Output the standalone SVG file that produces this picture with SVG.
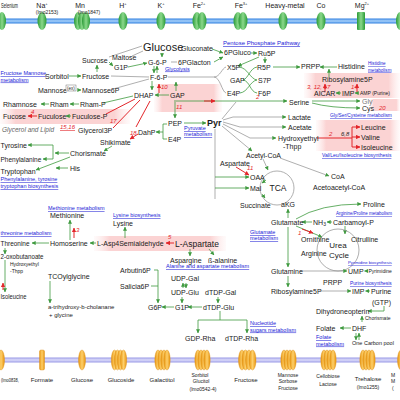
<svg xmlns="http://www.w3.org/2000/svg" width="400" height="400" viewBox="0 0 400 400">
<defs>
<marker id="ag" viewBox="0 0 6 6" refX="5.5" refY="3" markerWidth="4" markerHeight="4" orient="auto" markerUnits="userSpaceOnUse"><path d="M0,0L6,3L0,6z" fill="#3f9a3f"/></marker>
<marker id="ar" viewBox="0 0 6 6" refX="5.5" refY="3" markerWidth="4.5" markerHeight="4.5" orient="auto" markerUnits="userSpaceOnUse"><path d="M0,0L6,3L0,6z" fill="#e3262b"/></marker>
<linearGradient id="pink" x1="0" x2="1" y1="0" y2="0"><stop offset="0" stop-color="#fde8e8" stop-opacity="0.2"/><stop offset="0.12" stop-color="#fbd3d3"/><stop offset="0.88" stop-color="#fbd3d3"/><stop offset="1" stop-color="#fde8e8" stop-opacity="0.2"/></linearGradient>
<linearGradient id="gtr" x1="0" x2="1" y1="0" y2="0"><stop offset="0" stop-color="#2a9a36"/><stop offset="0.5" stop-color="#8ad88a"/><stop offset="1" stop-color="#2a9a36"/></linearGradient>
<linearGradient id="otr" x1="0" x2="1" y1="0" y2="0"><stop offset="0" stop-color="#e8950f"/><stop offset="0.5" stop-color="#fdcf6a"/><stop offset="1" stop-color="#e8950f"/></linearGradient>
<linearGradient id="mem1" x1="0" x2="0" y1="0" y2="1"><stop offset="0" stop-color="#2f7fe0"/><stop offset="0.5" stop-color="#a9d2fb"/><stop offset="1" stop-color="#2f7fe0"/></linearGradient>
<linearGradient id="mem2" x1="0" x2="0" y1="0" y2="1"><stop offset="0" stop-color="#9a9ae6"/><stop offset="0.5" stop-color="#dcdcfa"/><stop offset="1" stop-color="#9a9ae6"/></linearGradient>
</defs>
<style>
text{font-family:"Liberation Sans",Arial,sans-serif;font-size:7px;fill:#1a1a1a}
.s{font-size:6px}
.xs{font-size:5px}
.big{font-size:11px}
.lk{font-size:5.5px;fill:#2222d6;text-decoration:underline}
.rd{fill:#e3262b;font-style:italic;font-size:6px}
.gi{fill:#666;font-style:italic;font-size:6.5px}
.gl{stroke:#3f9a3f;stroke-width:0.8;fill:none}
.gy{stroke:#8c8c8c;stroke-width:0.7;fill:none}
.rl{stroke:#e3262b;stroke-width:1;fill:none}
.ma{marker-end:url(#ag)}
.mr{marker-end:url(#ar)}
.ge{fill:url(#gtr)}
.oe{fill:url(#otr);stroke:#d98a10;stroke-width:0.4}
.mid{text-anchor:middle}
.end{text-anchor:end}
</style>
<rect width="400" height="400" fill="#fff"/>

<!-- highlight bands -->
<g id="bands">
<rect x="154" y="84" width="68" height="28" fill="url(#pink)"/>
<rect x="0" y="109" width="130" height="15" fill="url(#pink)"/>
<rect x="304" y="73" width="96" height="25" fill="url(#pink)"/>
<rect x="370" y="99" width="30" height="12" fill="url(#pink)"/>
<rect x="316" y="120" width="84" height="31" fill="url(#pink)"/>
<rect x="94" y="236" width="132" height="15" fill="url(#pink)"/>
</g>

<!-- membranes -->
<g id="membrane-top">
<rect x="0" y="18.5" width="400" height="5" fill="url(#mem1)"/>
<ellipse cx="2" cy="21" rx="4" ry="9" class="ge"/>
<ellipse cx="42" cy="21" rx="4.5" ry="9" class="ge"/>
<ellipse cx="78" cy="21" rx="4" ry="9" class="ge"/>
<ellipse cx="82" cy="21" rx="4" ry="9" class="ge"/>
<ellipse cx="86" cy="21" rx="4" ry="9" class="ge"/>
<ellipse cx="123" cy="21" rx="4.5" ry="9" class="ge"/>
<ellipse cx="161" cy="21" rx="4.5" ry="9" class="ge"/>
<ellipse cx="197" cy="21" rx="4.5" ry="9" class="ge"/>
<ellipse cx="202" cy="21" rx="4.5" ry="9" class="ge"/>
<ellipse cx="238" cy="21" rx="4.5" ry="9" class="ge"/>
<ellipse cx="243" cy="21" rx="4.5" ry="9" class="ge"/>
<ellipse cx="283" cy="21" rx="4.5" ry="9" class="ge"/>
<ellipse cx="321" cy="21" rx="4.5" ry="9" class="ge"/>
<rect x="357" y="12" width="8" height="18" rx="1" class="ge"/>
<ellipse cx="400" cy="21" rx="4" ry="9" class="ge"/>
</g>
<g id="membrane-bottom">
<rect x="0" y="357.5" width="400" height="5" fill="url(#mem2)"/>
<ellipse cx="1" cy="360" rx="3.5" ry="10" class="oe"/>
<rect x="39.5" y="350" width="5" height="20" rx="1.5" class="oe"/>
<ellipse cx="82" cy="360" rx="3.5" ry="10" class="oe"/>
<g class="oe"><ellipse cx="114.5" cy="360" rx="3.2" ry="10"/><ellipse cx="117.5" cy="360" rx="3.2" ry="10"/><ellipse cx="120.5" cy="360" rx="3.2" ry="10"/><ellipse cx="123.5" cy="360" rx="3.2" ry="10"/></g>
<g class="oe"><ellipse cx="158" cy="360" rx="3.2" ry="10"/><ellipse cx="161" cy="360" rx="3.2" ry="10"/><ellipse cx="164" cy="360" rx="3.2" ry="10"/><ellipse cx="167" cy="360" rx="3.2" ry="10"/></g>
<g class="oe"><ellipse cx="198" cy="360" rx="3.2" ry="10"/><ellipse cx="201" cy="360" rx="3.2" ry="10"/><ellipse cx="204" cy="360" rx="3.2" ry="10"/><ellipse cx="207" cy="360" rx="3.2" ry="10"/></g>
<g class="oe"><ellipse cx="242" cy="360" rx="3.5" ry="10"/><ellipse cx="245.5" cy="360" rx="3.5" ry="10"/><ellipse cx="249" cy="360" rx="3.5" ry="10"/><ellipse cx="252.5" cy="360" rx="3.5" ry="10"/></g>
<g class="oe"><ellipse cx="284" cy="360" rx="3.2" ry="10"/><ellipse cx="287" cy="360" rx="3.2" ry="10"/><ellipse cx="290" cy="360" rx="3.2" ry="10"/><ellipse cx="293" cy="360" rx="3.2" ry="10"/></g>
<g class="oe"><ellipse cx="324" cy="360" rx="3.2" ry="10"/><ellipse cx="327" cy="360" rx="3.2" ry="10"/><ellipse cx="330" cy="360" rx="3.2" ry="10"/><ellipse cx="333" cy="360" rx="3.2" ry="10"/></g>
<g class="oe"><ellipse cx="363" cy="360" rx="3.2" ry="10"/><ellipse cx="366" cy="360" rx="3.2" ry="10"/><ellipse cx="369" cy="360" rx="3.2" ry="10"/><ellipse cx="372" cy="360" rx="3.2" ry="10"/></g>
<ellipse cx="401" cy="360" rx="3.5" ry="10" class="oe"/>
</g>

<!-- transporter labels -->
<g id="labels-top">
<text x="1" y="8" textLength="17" lengthAdjust="spacingAndGlyphs">Selenium</text>
<text x="42" y="8" class="mid">Na<tspan style="font-size:4px" dy="-3">+</tspan></text>
<text x="47" y="13.5" class="mid xs">(lmo2153)</text>
<text x="80" y="8" class="mid">Mn</text>
<text x="89" y="13.5" class="mid xs">(lmo1847)</text>
<text x="123" y="8" class="mid">H<tspan style="font-size:4px" dy="-3">+</tspan></text>
<text x="161" y="8" class="mid">K<tspan style="font-size:4px" dy="-3">+</tspan></text>
<text x="199" y="8" class="mid">Fe<tspan style="font-size:4px" dy="-3">2+</tspan></text>
<text x="241" y="8" class="mid">Fe<tspan style="font-size:4px" dy="-3">3+</tspan></text>
<text x="285" y="8" class="mid">Heavy-metal</text>
<text x="321" y="8" class="mid">Co</text>
<text x="362" y="8" class="mid">Mg<tspan style="font-size:4px" dy="-3">2+</tspan></text>
</g>
<g id="labels-bottom">
<text x="1" y="382" class="s" textLength="18" lengthAdjust="spacingAndGlyphs">(lmo0838,</text>
<text x="42" y="382" class="mid s">Formate</text>
<text x="82" y="382" class="mid s">Glucose</text>
<text x="121" y="382" class="mid s">Glucoside</text>
<text x="162" y="382" class="mid s">Galactitol</text>
<text x="200" y="377" class="mid xs">Sorbitol</text>
<text x="201" y="383" class="mid xs">Glucitol</text>
<text x="203" y="391" class="mid xs">(lmo0542-4)</text>
<text x="246" y="382" class="mid s">Fructose</text>
<text x="288" y="377" class="mid xs">Mannose</text>
<text x="288" y="383" class="mid xs">Sorbose</text>
<text x="288" y="390" class="mid xs">Fructose</text>
<text x="328" y="378" class="mid xs">Cellobiose</text>
<text x="328" y="386" class="mid xs">Lactose</text>
<text x="368" y="381" class="mid s">Trehalose</text>
<text x="368" y="389" class="mid xs">(lmo1255)</text>
<text x="391" y="377" class="xs">M</text>
<text x="391" y="383" class="xs">M</text>
<text x="392" y="390" class="xs">(</text>
</g>

<!-- connectors -->
<g id="connectors">
<path class="gy" d="M109,57 L142,46 M132,56 L143,51"/>
<path class="gl ma" d="M97,72 L97,65"/>
<path class="gl ma" d="M109,62 L113,66"/>
<path class="gl ma" d="M69,76 L81,76"/>
<path class="gy" d="M111,76 L149,77"/>
<path class="gl ma" d="M78,90 L81,90"/>
<path class="gy" d="M113,89 L149,79"/>
<path class="gl ma" d="M128,67 L147,63"/>
<path class="gl ma" d="M162,53 L162,57"/>
<path class="gy" d="M171,62 L177,62"/>
<path class="gl ma" d="M212,49 L223,53"/>
<path class="gl ma" d="M214,62 L223,57"/>
<path class="gl ma" d="M251,53 L257,53"/>
<path class="gl ma" d="M259,57 L238,66"/>
<path class="gl ma" d="M265,57 L265,63"/>
<path class="gl ma" d="M154,66 L154,73"/>
<path class="gl ma" d="M157,73 L157,66"/>
<path class="gl ma" d="M152,81 L152,90"/>
<path class="rl mr" d="M159,93 L159,84"/>
<path class="gl ma" d="M176,91 L176,82"/>
<path class="gl ma" d="M169,95 L155,95"/>
<path class="gy" d="M168,77 L214,77 M214,77 C220,77 222,68 226,67 M214,77 C220,77 222,92 226,93"/>
<path class="gl" d="M239,67 C248,68 250,79 257,80 M257,67 C250,68 248,79 243,80 M243,80 C250,81 250,92 257,93 M257,80 C250,81 248,92 240,93"/>
<path class="gl ma" d="M273,67 L300,67"/>
<path class="gl ma" d="M337,67 L320,67"/>
<path class="gl ma" d="M329,77 L329,69"/>
<path class="gl ma" d="M341,93 L336,93"/>
<path class="gl ma" d="M359,93 L355,93"/>
<path class="rl mr" d="M325,92 L325,84"/>
<path class="rl mr" d="M357,92 L357,84"/>
<path class="gl ma" d="M49,104 L41,104"/>
<path class="gl ma" d="M79,104 L70,104"/>
<path class="gl" d="M103,103 L133,96"/>
<path class="rl mr" d="M37,116 L28,116"/>
<path class="gl ma" d="M71,116 L66,116"/>
<path class="rl" d="M106,114 L135,99"/>
<path class="rl" d="M113,128 L140,100"/>
<path class="rl" d="M150,101 L136,127"/>
<path class="gl" d="M163,124 L163,139 M167,124 L163,124 M167,139 L163,139"/>
<path class="gl ma" d="M163,132 L156,132"/>
<path class="rl mr" d="M138,134 L130,139"/>
<path class="gl ma" d="M175,100 L175,118"/>
<path class="gl ma" d="M184,123 L206,123"/>
<path class="gl ma" d="M176,101 L287,101"/>
<path class="rl mr" d="M204,101 L215,101"/>
<path class="gy" d="M222,119 L236,102"/>
<path class="gy ma" d="M223,120 L233,117 L286,117"/>
<path class="gy ma" d="M223,122 L240,127 L286,127"/>
<path class="gy ma" d="M223,124 L250,138 L276,138"/>
<path class="gy ma" d="M222,126 L252,151"/>
<path class="gy" d="M215,129 L215,199"/>
<path class="gl ma" d="M215,177 L249,177"/>
<path class="gl ma" d="M215,188 L249,188"/>
<path class="rl mr" d="M236,167 L249,175" stroke-width="1.6"/>
<path class="gy ma" d="M263,159 L268,170"/>
<path class="gy ma" d="M280,158 L329,176"/>
<path class="gl ma" d="M312,101 L360,101"/>
<path class="gl ma" d="M312,103 Q330,108 360,108"/>
<path class="rl" d="M317,138 L352,138 M352,127 L352,147"/>
<path class="rl mr" d="M352,127 L360,127"/>
<path class="rl mr" d="M352,137 L360,137"/>
<path class="rl mr" d="M352,147 L360,147"/>
<path class="gl ma" d="M112,146 L104,151"/>
<path class="gl ma" d="M69,153 L55,153"/>
<path class="gl" d="M53,145 L53,159"/>
<path class="gl ma" d="M53,145 L28,145"/>
<path class="gl ma" d="M53,159 L43,159"/>
<path class="gl ma" d="M70,157 L36,170"/>
<path class="gl ma" d="M68,168 L56,168"/>
<circle cx="277" cy="188" r="17" class="gy"/>
<path class="gl ma" d="M266,180 L262,183"/>
<path class="gl ma" d="M262,194 L265,198"/>
<path class="gl ma" d="M288,218 L288,209"/>
<path class="gl ma" d="M296,219 Q320,204 361,204"/>
<path class="gl ma" d="M312,222 L302,222"/>
<path class="gl ma" d="M332,222 L327,222"/>
<path class="gl ma" d="M345,226 L345,234"/>
<path class="gl ma" d="M296,226 L322,237"/>
<path class="rl mr" d="M302,229 L313,233" stroke-width="1.8"/>
<circle cx="338" cy="250" r="21" class="gy"/>
<path class="gl ma" d="M288,227 L288,267"/>
<path class="gl ma" d="M288,276 L288,287"/>
<path class="gy ma" d="M300,271 L347,271"/>
<path class="gl ma" d="M368,271 L364.5,271"/>
<path class="gy ma" d="M319,291 L351,291"/>
<path class="gl ma" d="M370,291 L365.5,291"/>
<path class="gl ma" d="M384,306 L384,311 L368,311"/>
<path class="gl ma" d="M362,322 L362,316"/>
<path class="gl ma" d="M351,328 L340,328"/>
<path class="gl ma" d="M356,333 L356,340"/>
<path class="gl ma" d="M359,340 L359,333"/>
<path class="gl ma" d="M70,240 L70,220"/>
<path class="rl mr" d="M74,238 L74,228"/>
<path class="gl ma" d="M49,243 L32,243"/>
<path class="gl ma" d="M96,243 L90,243"/>
<path class="rl mr" d="M174,243 L166,243"/>
<path class="gl ma" d="M125,238 L125,227"/>
<path class="gl ma" d="M5,248 L5,254"/>
<path class="gl ma" d="M5,260 L5,292"/>
<path class="rl mr" d="M3,290 L3,283"/>
<path class="gl ma" d="M190,249 L190,256"/>
<path class="gl ma" d="M209,249 L214,255"/>
<path class="gl ma" d="M50,281 L50,303"/>
<path class="gl ma" d="M154,270 L158,270 L158,303"/>
<path class="gl" d="M151,286 L158,286"/>
<path class="gl ma" d="M183,288 L183,283"/>
<path class="gl ma" d="M186,283 L186,288"/>
<path class="gl ma" d="M182,297 L182,303"/>
<path class="gl ma" d="M218,297 L218,303"/>
<path class="gl ma" d="M174,307 L162,307"/>
<path class="gl ma" d="M202,307 L188,307"/>
<path class="gl" d="M220,311 L220,320 M198,320 L247,320"/>
<path class="gl ma" d="M198,320 L198,333"/>
<path class="gl ma" d="M247,320 L247,333"/>
</g>

<!-- nodes -->
<g id="n-glucose"><text x="143" y="51" class="big">Glucose</text></g>
<g id="n-gluconate"><text x="181" y="50.5">Gluconate</text></g>
<g id="n-6pgluco"><text x="224" y="55">6PGluco</text></g>
<g id="n-ru5p"><text x="258" y="55.5">Ru5P</text></g>
<g id="n-sucrose"><text x="82" y="62.5">Sucrose</text></g>
<g id="n-maltose"><text x="112" y="60">Maltose</text></g>
<g id="n-g1p"><text x="114" y="69.5">G1P</text></g>
<g id="n-g6p"><text x="148" y="64.5">G-6-P</text></g>
<g id="n-6pglacton"><text x="178" y="64.5">6PGlacton</text></g>
<g id="n-x5p"><text x="227" y="69.5">X5P</text></g>
<g id="n-r5p"><text x="257" y="69.5">R5P</text></g>
<g id="n-sorbitol"><text x="45" y="78.5">Sorbitol</text></g>
<g id="n-fructose"><text x="82" y="78.5">Fructose</text></g>
<g id="n-f6p"><text x="150" y="79.5">F-6-P</text></g>
<g id="n-gap2"><text x="230" y="82.5">GAP</text></g>
<g id="n-s7p"><text x="258" y="82.5">S7P</text></g>
<g id="n-mannose"><text x="38" y="92.5">Mannose</text><rect x="66" y="85" width="10" height="6" fill="#fff" stroke="#555" stroke-width="0.4"/><text x="67" y="89.8" style="font-size:4.5px">(ex)</text></g>
<g id="n-mannose6p"><text x="82" y="92.5">Mannose6P</text></g>
<g id="n-e4p2"><text x="227" y="95.5">E4P</text></g>
<g id="n-f6p2"><text x="258" y="95.5">F6P</text></g>
<g id="n-dhap"><text x="134" y="97.5">DHAP</text></g>
<g id="n-gap"><text x="170" y="97.5">GAP</text></g>
<g id="n-prpp"><text x="301" y="68.5">PRPP</text></g>
<g id="n-histidine"><text x="338" y="68.5">Histidine</text></g>
<g id="n-ribosylamine5p"><text x="322" y="81.5">Ribosylamine5P</text></g>
<g id="n-aicar"><text x="314" y="95.5">AICAR</text></g>
<g id="n-imp"><text x="342" y="95.5">IMP</text></g>
<g id="n-amp"><text x="360" y="95.3" style="font-size:5px">AMP (Purine)</text></g>
<g id="n-rhamnose"><text x="3" y="106.5">Rhamnose</text></g>
<g id="n-rham"><text x="50" y="106.5">Rham</text></g>
<g id="n-rhamp"><text x="80" y="106.5">Rham-P</text></g>
<g id="n-fucose"><text x="3" y="118.5">Fucose</text></g>
<g id="n-fuculose"><text x="38" y="118.5">Fuculose</text></g>
<g id="n-fuculosep"><text x="72" y="118.5">Fuculose-P</text></g>
<g id="n-glycerol"><text x="2" y="131.5" class="gi">Glycerol and Lipid</text></g>
<g id="n-glycerol3p"><text x="78" y="132.5">Glycerol3P</text></g>
<g id="n-serine"><text x="289" y="104.5">Serine</text></g>
<g id="n-gly"><text x="362" y="103.5" style="fill:#777">Gly</text></g>
<g id="n-cys"><text x="362" y="110.5">Cys</text></g>
<g id="n-lactate"><text x="288" y="119.5">Lactate</text></g>
<g id="n-acetate"><text x="288" y="129.5">Acetate</text></g>
<g id="n-pep"><text x="168" y="125.5">PEP</text></g>
<g id="n-pyr"><text x="207" y="126" style="font-size:9px;font-weight:bold">Pyr</text></g>
<g id="n-dahp"><text x="138" y="134.5">DahP</text></g>
<g id="n-e4p"><text x="168" y="141.5">E4P</text></g>
<g id="n-hydroxyethyl"><text x="278" y="140.5">Hydroxyethyl</text><text x="283" y="148.5">-Thpp</text></g>
<g id="n-leucine"><text x="361" y="129.5">Leucine</text></g>
<g id="n-valine"><text x="361" y="139.5">Valine</text></g>
<g id="n-isoleucine"><text x="361" y="149.5">Isoleucine</text></g>
<g id="n-shikimate"><text x="100" y="144.5">Shikimate</text></g>
<g id="n-chorismate"><text x="70" y="155.5">Chorismate</text></g>
<g id="n-tyrosine"><text x="0.5" y="147.5">Tyrosine</text></g>
<g id="n-phenylalanine"><text x="0.5" y="161.5" style="font-size:6.5px">Phenylalanine</text></g>
<g id="n-tryptophan"><text x="0.5" y="173.5">Tryptophan</text></g>
<g id="n-his"><text x="70" y="170.5">His</text></g>
<g id="n-acetylcoa"><text x="246" y="157.5">Acetyl-CoA</text></g>
<g id="n-aspartate"><text x="220" y="165.5">Aspartate</text></g>
<g id="n-oaa"><text x="250" y="179.5">OAA</text></g>
<g id="n-mal"><text x="250" y="190.5">Mal</text></g>
<g id="n-tca"><text x="278" y="191" class="mid" style="font-size:8.5px">TCA</text></g>
<g id="n-coa"><text x="331" y="178.5">CoA</text></g>
<g id="n-acetoacetylcoa"><text x="313" y="189.5">Acetoacetyl-CoA</text></g>
<g id="n-succinate"><text x="240" y="207.5">Succinate</text></g>
<g id="n-akg"><text x="281" y="206.5">aKG</text></g>
<g id="n-proline"><text x="363" y="206.5">Proline</text></g>
<g id="n-methionine"><text x="50" y="217.5">Methionine</text></g>
<g id="n-lysine"><text x="113" y="225.5">Lysine</text></g>
<g id="n-glutamate"><text x="271" y="224.5">Glutamate</text></g>
<g id="n-nh3"><text x="313" y="224.5">NH<tspan style="font-size:5px" dy="1.5">3</tspan></text></g>
<g id="n-carbamoylp"><text x="333" y="224.5">Carbamoyl-P</text></g>
<g id="n-threonine"><text x="0.5" y="245.5" textLength="29" lengthAdjust="spacingAndGlyphs">Threonine</text></g>
<g id="n-homoserine"><text x="50" y="245.5">Homoserine</text></g>
<g id="n-lasp4"><text x="97" y="245.5">L-Asp4Semialdehyde</text></g>
<g id="n-laspartate"><text x="175" y="246.5" style="font-size:8.5px">L-Aspartate</text></g>
<g id="n-ornithine"><text x="301" y="241.5">Ornithine</text></g>
<g id="n-citrulline"><text x="351" y="241.5">Citrulline</text></g>
<g id="n-urea"><text x="338" y="248" class="mid" style="font-size:8px">Urea</text><text x="339" y="258" class="mid" style="font-size:8px">Cycle</text></g>
<g id="n-arginine"><text x="301" y="255.5">Arginine</text></g>
<g id="n-oxobutanoate"><text x="0.5" y="258.5" textLength="43" lengthAdjust="spacingAndGlyphs">2-oxobutanoate</text></g>
<g id="n-hydroxyethyl2"><text x="10" y="266" class="xs">Hydroxyethyl</text><text x="10" y="273" class="xs">-Thpp</text></g>
<g id="n-isoleucine2"><text x="0.5" y="298.5" textLength="26" lengthAdjust="spacingAndGlyphs">Isoleucine</text></g>
<g id="n-aspargine"><text x="170" y="262.5">Aspargine</text></g>
<g id="n-balanine"><text x="208" y="262.5">ß-alanine</text></g>
<g id="n-arbutin"><text x="120" y="272.5">Arbutin6P</text></g>
<g id="n-salicia"><text x="120" y="288.5">Salicia6P</text></g>
<g id="n-tcoylglycine"><text x="48" y="278.5">TCOylglycine</text></g>
<g id="n-glutamine"><text x="271" y="273.5">Glutamine</text></g>
<g id="n-ump"><text x="348" y="273.5">UMP</text></g>
<g id="n-pyrimidine"><text x="368.5" y="273.3" style="font-size:5px">Pyrimidine</text></g>
<g id="n-udpgal"><text x="171" y="280.5">UDP-Gal</text></g>
<g id="n-udpglu"><text x="171" y="294.5">UDP-Glu</text></g>
<g id="n-dtdpgal"><text x="205" y="294.5">dTDP-Gal</text></g>
<g id="n-prpp2"><text x="323" y="284.5">PRPP</text></g>
<g id="n-ribosylamine5p2"><text x="271" y="293.5">Ribosylamine5P</text></g>
<g id="n-imp2"><text x="352" y="293.5">IMP</text></g>
<g id="n-purine"><text x="371" y="293.5">Purine</text></g>
<g id="n-gtp"><text x="372" y="304.5">(GTP)</text></g>
<g id="n-cholanane"><text x="48" y="309" class="s">a-trihydroxy-b-cholanane</text><text x="49" y="317" class="s">+ glycine</text></g>
<g id="n-g6p2"><text x="148" y="309.5">G6P</text></g>
<g id="n-g1p2"><text x="175" y="309.5">G1P</text></g>
<g id="n-dtdpglu"><text x="203" y="309.5">dTDP-Glu</text></g>
<g id="n-dihydroneopterin"><text x="316" y="313.5">Dihydroneopterin</text></g>
<g id="n-chorismate2"><text x="365" y="320" class="xs">Chorismate</text></g>
<g id="n-gdprha"><text x="185" y="340.5">GDP-Rha</text></g>
<g id="n-dtdprha"><text x="225" y="340.5">dTDP-Rha</text></g>
<g id="n-folate"><text x="316" y="330.5">Folate</text></g>
<g id="n-dhf"><text x="352" y="330.5">DHF</text></g>
<g id="n-onecarbon"><text x="352" y="345.3" style="font-size:5.5px">One Carbon pool</text></g>

<!-- pathway links -->
<g id="links">
<text x="223" y="45" class="lk" style="font-size:6px">Pentose Phosphate Pathway</text>
<text x="165" y="70.5" class="lk">Glycolysis</text>
<text x="0.5" y="75" class="lk">Fructose Mannose</text>
<text x="0.5" y="81.5" class="lk">metabolism</text>
<text x="368" y="65" class="lk" style="font-size:4.6px">Histidine</text>
<text x="368" y="71.5" class="lk" style="font-size:4.6px">metabolism</text>
<text x="330" y="117" class="lk" style="font-size:4.8px">Gly/Ser/Cysteine metabolism</text>
<text x="184" y="130" class="lk">Pyruvate</text>
<text x="184" y="136" class="lk">metabolism</text>
<text x="322" y="157" class="lk" style="font-size:5px">Val/Leu/Isoleucine biosynthesis</text>
<text x="0.5" y="181" class="lk">Phenylalanine, tyrosine</text>
<text x="0.5" y="188" class="lk">tryptophan biosynthesis</text>
<text x="48" y="210" class="lk">Methionine metabolism</text>
<text x="113" y="217" class="lk">Lysine biosynthesis</text>
<text x="336" y="215" class="lk" style="font-size:4.5px">Arginine/Proline metabolism</text>
<text x="250" y="234" class="lk">Glutamate</text>
<text x="250" y="240" class="lk">metabolism</text>
<text x="0.5" y="235" class="lk" textLength="51" lengthAdjust="spacingAndGlyphs">threonine metabolism</text>
<text x="166" y="268" class="lk">Alanine and aspartate metabolism</text>
<text x="348" y="264" class="lk" style="font-size:4.2px">Pyrimidine biosynthesis</text>
<text x="350" y="285" class="lk" style="font-size:4.8px">Purine biosynthesis</text>
<text x="250" y="325" class="lk">Nucleotide</text>
<text x="250" y="331.5" class="lk">sugars metabolism</text>
<text x="316" y="339" class="lk">Folate</text>
<text x="316" y="345.5" class="lk">metabolism</text>
</g>

<!-- enzyme numbers -->
<g id="enzymes">
<text x="161" y="89" class="rd">10</text>
<text x="307" y="88.5" class="rd">3, 12, 17</text>
<text x="351" y="88.5" class="rd">14</text>
<text x="31" y="114" class="rd">4</text>
<text x="110" y="123" class="rd">17</text>
<text x="60" y="129" class="rd" style="text-decoration:underline">15,16</text>
<text x="130" y="135" class="rd">18</text>
<text x="176" y="109" class="rd">11</text>
<text x="256" y="99" class="rd">2</text>
<text x="379" y="109.5" class="rd">20</text>
<text x="329" y="135.5" class="rd">2</text>
<text x="341" y="135.5" style="font-size:6px;font-style:italic">6,8</text>
<text x="247" y="170" class="rd">11</text>
<text x="76" y="232" class="rd">3</text>
<text x="168" y="239" class="rd">5</text>
<text x="298" y="235" class="rd">1</text>
</g>
</svg>
